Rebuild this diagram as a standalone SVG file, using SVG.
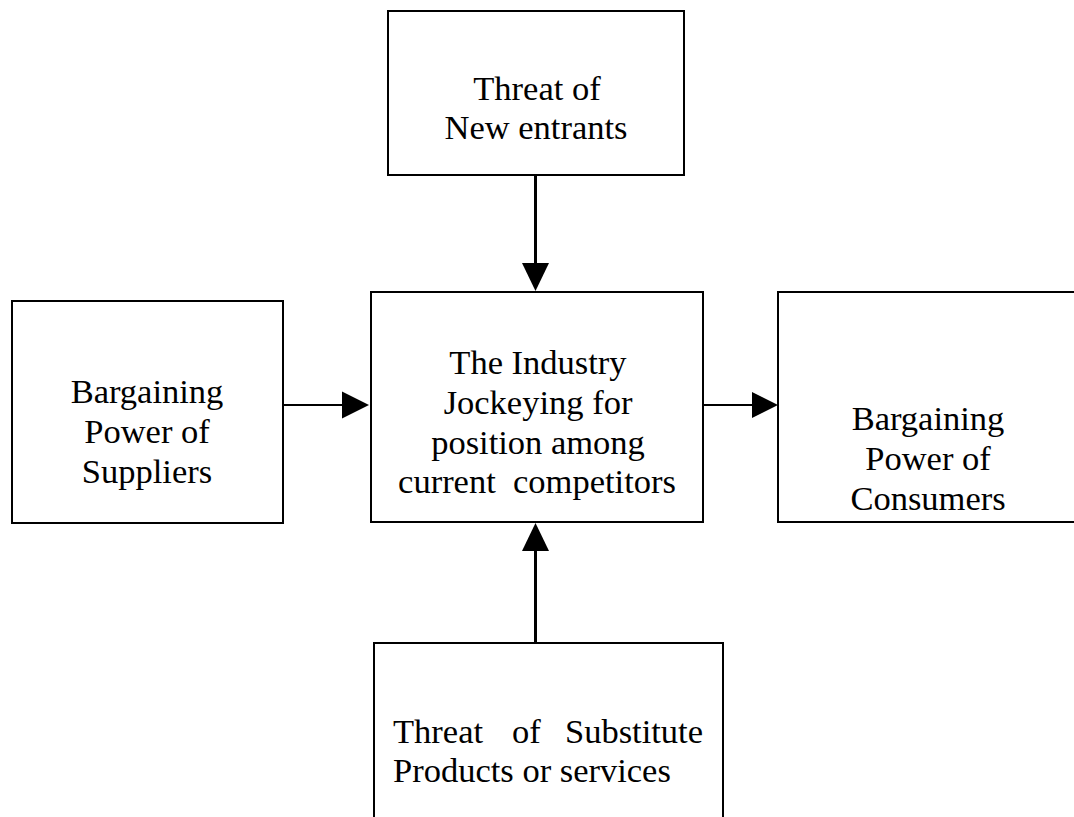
<svg xmlns="http://www.w3.org/2000/svg" width="1074" height="817" viewBox="0 0 1074 817">
<style>
.box{fill:#fff;stroke:#000;stroke-width:2}
.t{font-family:"Liberation Serif","Times New Roman",serif;font-size:34.5px;fill:#000;text-anchor:middle}
.ts{font-family:"Liberation Serif","Times New Roman",serif;font-size:34.5px;fill:#000}
.cv{stroke:#000;stroke-width:3;fill:none}
.ch{stroke:#000;stroke-width:2;fill:none}
.head{fill:#000;stroke:none}
</style>
<rect width="1074" height="817" fill="#fff"/>
<g id="connectors">
<line class="cv" x1="535.5" y1="175" x2="535.5" y2="264"/>
<polygon class="head" points="522,263 549,263 535.5,291"/>
<line class="cv" x1="535.5" y1="643" x2="535.5" y2="550"/>
<polygon class="head" points="522,551 549,551 535.5,523"/>
<line class="ch" x1="283" y1="405" x2="343" y2="405"/>
<polygon class="head" points="342,391.5 342,418.5 369,405"/>
<line class="ch" x1="703" y1="405" x2="753" y2="405"/>
<polygon class="head" points="752,392 752,418 778,405"/>
</g>
<g id="new-entrants">
<rect class="box" x="388" y="11" width="296" height="164"/>
<text class="t" x="537" y="100">Threat of</text>
<text class="t" x="536" y="139">New entrants</text>
</g>
<g id="suppliers">
<rect class="box" x="12" y="301" width="271" height="222"/>
<text class="t" x="147" y="403">Bargaining</text>
<text class="t" x="147" y="443">Power of</text>
<text class="t" x="147" y="483">Suppliers</text>
</g>
<g id="industry">
<rect class="box" x="371" y="292" width="332" height="230"/>
<text class="t" x="538" y="374">The Industry</text>
<text class="t" x="538" y="414">Jockeying for</text>
<text class="t" x="538" y="453.5">position among</text>
<text class="t" x="537" y="493" xml:space="preserve">current  competitors</text>
</g>
<g id="consumers">
<rect class="box" x="778" y="292" width="310" height="230"/>
<text class="t" x="928" y="430">Bargaining</text>
<text class="t" x="928" y="470">Power of</text>
<text class="t" x="928" y="510">Consumers</text>
</g>
<g id="substitutes">
<rect class="box" x="374" y="643" width="349" height="200"/>
<text class="ts" x="393" y="743">Threat</text>
<text class="ts" x="512" y="743">of</text>
<text class="ts" x="703" y="743" text-anchor="end">Substitute</text>
<text class="ts" x="393" y="782">Products or services</text>
</g>
</svg>
